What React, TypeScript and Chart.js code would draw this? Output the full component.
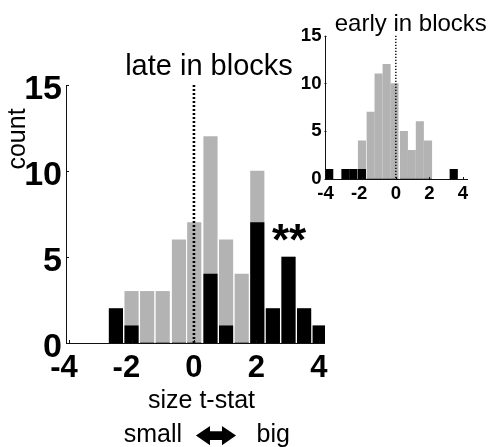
import React, { useEffect, useRef } from 'react';
import { Chart, registerables } from 'chart.js';

Chart.register(...registerables);

// ---- data ----
const mainBins = [-2.5, -2.0, -1.5, -1.0, -0.48, 0.01, 0.53, 1.03, 1.53, 2.03, 2.53, 3.03, 3.53, 4.03];
const mainTotal = [2, 3, 3, 3, 6, 7, 12, 6, 4, 10, 2, 5, 2, 1];
const mainSig = [2, 1, 0, 0, 0, 0, 4, 1, 0, 7, 2, 5, 2, 1];

const insetBins = [-3.97, -3.0, -2.53, -2.02, -1.5, -1.03, -0.55, -0.08, 0.48, 0.95, 1.43, 1.92, 3.45];
const insetTotal = [1, 1, 1, 4, 7, 11, 12, 10, 5, 3, 6, 4, 1];
const insetSig = [1, 1, 1, 1, 0, 0, 0, 0, 0, 0, 0, 0, 1];

const xTickValues = [-4, -2, 0, 2, 4];
const yTickValues = [0, 5, 10, 15];

const GRAY = '#b3b3b3';
const BLACK = '#000000';
const SANS = '"Liberation Sans", Arial, sans-serif';

type DecorCfg = {
  name: string;
  dotWidth: number;
  dash: number[];
  tickLen: number;
  xFont: string;
  yFont: string;
  xLabelGap: number;
  yLabelGap: number;
  yLabelShift: number;
  texts: (ctx: CanvasRenderingContext2D) => void;
};

function makeDecor(cfg: DecorCfg) {
  return {
    id: 'decor_' + cfg.name,
    afterDatasetsDraw(chart: any) {
      const { ctx, chartArea: a, scales } = chart;
      const xs = scales.x;
      const ys = scales.y;
      ctx.save();
      // dotted zero line
      const x0 = xs.getPixelForValue(0);
      ctx.strokeStyle = BLACK;
      ctx.lineWidth = cfg.dotWidth;
      ctx.setLineDash(cfg.dash);
      ctx.beginPath();
      ctx.moveTo(x0, a.top);
      ctx.lineTo(x0, a.bottom);
      ctx.stroke();
      ctx.setLineDash([]);
      // axes (box off: left + bottom only)
      ctx.lineWidth = 1;
      ctx.strokeStyle = '#111';
      ctx.beginPath();
      ctx.moveTo(Math.round(a.left) + 0.5, a.top);
      ctx.lineTo(Math.round(a.left) + 0.5, Math.round(a.bottom) + 0.5);
      ctx.lineTo(a.right, Math.round(a.bottom) + 0.5);
      ctx.stroke();
      // inward tick marks
      ctx.beginPath();
      for (const v of yTickValues) {
        const y = Math.round(ys.getPixelForValue(v)) + 0.5;
        ctx.moveTo(a.left, y);
        ctx.lineTo(a.left + cfg.tickLen, y);
      }
      for (const v of xTickValues) {
        const x = Math.round(xs.getPixelForValue(v)) + 0.5;
        ctx.moveTo(x, a.bottom);
        ctx.lineTo(x, a.bottom - cfg.tickLen);
      }
      ctx.stroke();
      // tick labels
      ctx.fillStyle = BLACK;
      ctx.font = cfg.xFont;
      ctx.textBaseline = 'alphabetic';
      for (const v of xTickValues) {
        const x = xs.getPixelForValue(v);
        const s = String(v);
        const digits = String(Math.abs(v));
        const dw = ctx.measureText(digits).width;
        ctx.textAlign = 'right';
        ctx.fillText(s, x + dw / 2, a.bottom + cfg.xLabelGap);
      }
      ctx.font = cfg.yFont;
      ctx.textAlign = 'right';
      ctx.textBaseline = 'middle';
      for (const v of yTickValues) {
        const y = ys.getPixelForValue(v);
        ctx.fillText(String(v), a.left - cfg.yLabelGap, y + cfg.yLabelShift);
      }
      cfg.texts(ctx);
      ctx.restore();
    },
  };
}

function buildConfig(
  bins: number[],
  total: number[],
  sig: number[],
  xmin: number,
  xmax: number,
  thickness: number,
  padding: { left: number; top: number; right: number; bottom: number },
  decor: any
): any {
  return {
    type: 'bar',
    data: {
      datasets: [
        {
          label: 'significant',
          data: bins.map((b, i) => ({ x: b, y: sig[i] })),
          backgroundColor: BLACK,
          borderWidth: 0,
          barThickness: thickness,
          grouped: false,
          order: 0,
        },
        {
          label: 'all',
          data: bins.map((b, i) => ({ x: b, y: total[i] })),
          backgroundColor: GRAY,
          borderWidth: 0,
          barThickness: thickness,
          grouped: false,
          order: 1,
        },
      ],
    },
    options: {
      responsive: false,
      animation: false,
      layout: { padding },
      plugins: { legend: { display: false }, tooltip: { enabled: false }, title: { display: false } },
      scales: {
        x: { type: 'linear', min: xmin, max: xmax, display: false, offset: false },
        y: { type: 'linear', min: 0, max: 15, display: false },
      },
    },
    plugins: [decor],
  };
}

export default function App() {
  const mainRef = useRef<HTMLCanvasElement>(null);
  const insetRef = useRef<HTMLCanvasElement>(null);

  useEffect(() => {
    const mainDecor = makeDecor({
      name: 'main',
      dotWidth: 2.6,
      dash: [2, 2],
      tickLen: 3,
      xFont: `bold 31px ${SANS}`,
      yFont: `bold 34px ${SANS}`,
      xLabelGap: 34,
      yLabelGap: 4,
      yLabelShift: 5,
      texts: (ctx) => {
        ctx.fillStyle = BLACK;
        ctx.textBaseline = 'alphabetic';
        ctx.font = `29px ${SANS}`;
        ctx.textAlign = 'center';
        ctx.fillText('late in blocks', 209, 75);
        ctx.font = `25px ${SANS}`;
        ctx.fillText('size t-stat', 201.5, 408);
        ctx.textAlign = 'right';
        ctx.fillText('small', 182, 441.5);
        ctx.textAlign = 'left';
        ctx.fillText('big', 256.5, 441.5);
        // double-headed arrow glyph, stretched horizontally
        ctx.save();
        ctx.translate(216.5, 437.5);
        ctx.scale(1.55, 1.05);
        ctx.textAlign = 'center';
        ctx.textBaseline = 'middle';
        ctx.font = `bold 34px "DejaVu Sans", sans-serif`;
        ctx.fillText('\u2B0C', 0, 0);
        ctx.restore();
        ctx.save();
        ctx.font = `25px ${SANS}`;
        ctx.translate(25, 139);
        ctx.rotate(-Math.PI / 2);
        ctx.textAlign = 'center';
        ctx.fillText('count', 0, 0);
        ctx.restore();
        ctx.font = `bold 44px ${SANS}`;
        ctx.textAlign = 'left';
        ctx.fillText('**', 272, 255);
      },
    });
    const insetDecor = makeDecor({
      name: 'inset',
      dotWidth: 1.4,
      dash: [1.4, 1.6],
      tickLen: 2,
      xFont: `bold 18.6px ${SANS}`,
      yFont: `bold 18.6px ${SANS}`,
      xLabelGap: 19.5,
      yLabelGap: 3,
      yLabelShift: 0,
      texts: (ctx) => {
        ctx.fillStyle = BLACK;
        ctx.textBaseline = 'alphabetic';
        ctx.font = `24px ${SANS}`;
        ctx.textAlign = 'center';
        ctx.fillText('early in blocks', 120.8, 30.7);
      },
    });

    const mainChart = new Chart(
      mainRef.current as HTMLCanvasElement,
      buildConfig(mainBins, mainTotal, mainSig, -4.1, 4.2, 13.5, { left: 66, top: 85, right: 164, bottom: 104 }, mainDecor)
    );
    const insetChart = new Chart(
      insetRef.current as HTMLCanvasElement,
      buildConfig(insetBins, insetTotal, insetSig, -4.25, 4.3, 7.4, { left: 34.5, top: 35.7, right: 21, bottom: 31 }, insetDecor)
    );
    return () => {
      mainChart.destroy();
      insetChart.destroy();
    };
  }, []);

  return (
    <div style={{ position: 'absolute', left: 0, top: 0, width: 489, height: 447, background: '#fff' }}>
      <canvas ref={mainRef} width={489} height={447} style={{ position: 'absolute', left: 0, top: 0, width: 489, height: 447 }} />
      <canvas ref={insetRef} width={199} height={210} style={{ position: 'absolute', left: 290, top: 0, width: 199, height: 210 }} />
    </div>
  );
}
